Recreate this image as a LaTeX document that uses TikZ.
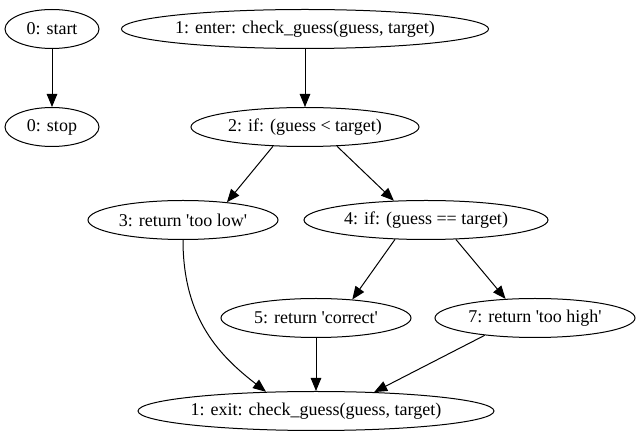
\documentclass[tikz,border=0pt]{standalone}
\usepackage{fontspec}
\setmainfont{LiberationSerif}[Extension=.ttf,UprightFont=*-Regular,BoldFont=*-Bold]
\usetikzlibrary{shapes.geometric,arrows.meta,calc}
\newcommand{\sq}{\textquotesingle}
\begin{document}
\begin{tikzpicture}[x=1pt,y=-1pt,
  gnode/.style={draw,ellipse,line width=1pt,inner sep=0pt,minimum height=39pt,
    font=\rmfamily\fontsize{18}{20}\selectfont},
  edge/.style={line width=1pt,-{Triangle[length=13pt,width=10.5pt]}}]
\useasboundingbox (0,0) rectangle (641,443);
\node[gnode,minimum width=94pt]  (start) at (52,29)  {0: start};
\node[gnode,minimum width=94pt]  (stop)  at (52,127) {0: stop};
\node[gnode,minimum width=364pt] (enter) at (305,29) {1: enter: check\_guess(guess, target)};
\node[gnode,minimum width=228pt] (if2)   at (305,127) {2: if: (guess < target)};
\node[gnode,minimum width=190pt] (r3)    at (183,220) {3: return \sq too low\sq};
\node[gnode,minimum width=244pt] (if4)   at (426,220) {4: if: (guess == target)};
\node[gnode,minimum width=190pt] (r5)    at (316,318) {5: return \sq correct\sq};
\node[gnode,minimum width=200pt] (r7)    at (535,318) {7: return \sq too high\sq};
\node[gnode,minimum width=356pt] (exit)  at (316,411) {1: exit: check\_guess(guess, target)};
\draw[edge] (start.south) -- (stop.north);
\draw[edge] (enter.south) -- (if2.north);
\draw[edge] (if2.211) -- (r3.22);
\draw[edge] (if2.329) -- (if4.149);
\draw[edge] (if4.212) -- (r5.27);
\draw[edge] (if4.327) -- (r7.147);
\draw[edge] (r5.south) -- (exit.north);
\draw[edge] (r7.199) -- (exit.18);
\draw[edge] (r3.south) .. controls ($(r3.south)+(0,80)$) and ($(exit.159)+(-45,-35)$) .. (exit.159);
\end{tikzpicture}
\end{document}
